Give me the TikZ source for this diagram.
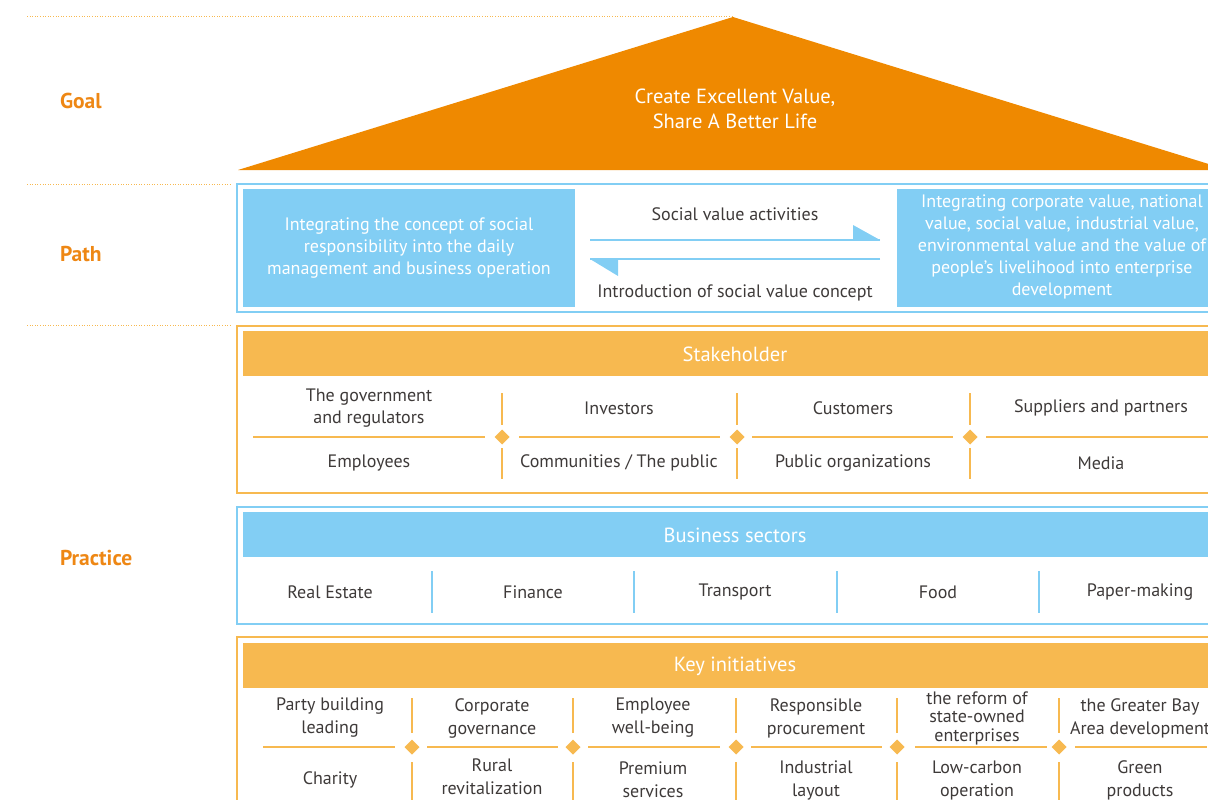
\documentclass[tikz,border=0pt]{standalone}
\usepackage{fontspec}
\setmainfont{PT Sans}
\usetikzlibrary{shapes.geometric}
\definecolor{dorange}{RGB}{239,137,0}
\definecolor{lorange}{RGB}{247,185,80}
\definecolor{lblue}{RGB}{130,206,244}
\definecolor{txtgray}{RGB}{62,58,57}
\definecolor{lblorange}{RGB}{238,135,20}
\tikzset{
  every node/.style={inner sep=0pt, outer sep=0pt},
  body/.style={font=\fontsize{18}{22}\selectfont, text=txtgray, align=center},
  keyitem/.style={font=\fontsize{18}{23}\selectfont, text=txtgray, align=center},
  whitetext/.style={font=\fontsize{18}{22}\selectfont, text=white, align=center},
  headtext/.style={font=\fontsize{20.5}{22}\selectfont, text=white},
  sidelabel/.style={font=\fontsize{21.5}{22}\selectfont\bfseries, text=lblorange, anchor=west},
  guide/.style={lorange, line width=1pt, dash pattern=on 1pt off 1.6pt},
  obox/.style={draw=lorange, line width=1.6pt},
  bbox/.style={draw=lblue, line width=1.6pt},
  ohead/.style={fill=lorange, minimum width=984pt, minimum height=45pt},
  bhead/.style={fill=lblue, minimum width=984pt, minimum height=45pt},
  bluepanel/.style={fill=lblue, minimum height=118pt},
  osep/.style={lorange, line width=1.3pt},
  bsep/.style={lblue, line width=1.3pt},
  odiamond/.style={diamond, fill=lorange, minimum size=15pt},
  flowline/.style={lblue, line width=1.4pt}
}
\begin{document}
\begin{tikzpicture}[x=1pt,y=-1pt]
\useasboundingbox (0,0) rectangle (1208,800);
\clip (0,0) rectangle (1208,800);

% guide lines
\draw[guide] (27,17) -- (733,17);
\draw[guide] (27,184) -- (230,184);
\draw[guide] (27,325) -- (230,325);

% side labels
\node[sidelabel] (goal) at (60,101) {Goal};
\node[sidelabel] (path) at (60,254) {Path};
\node[sidelabel] (practice) at (60,558) {Practice};

% roof
\fill[dorange] (733,17) -- (1228,170) -- (238,170) -- cycle;
\node[font=\fontsize{20.5}{25}\selectfont, text=white, align=center] (goaltext) at (735,109) {Create Excellent Value,\\Share A Better Life};

% path
\draw[bbox] (237,184) rectangle (1233,312);
\node[bluepanel, minimum width=332pt] (pleft) at (409,248) {};
\node[whitetext] (plefttext) at (409,248) {Integrating the concept of social\\responsibility into the daily\\management and business operation};
\node[bluepanel, minimum width=330pt] (pright) at (1062,248) {};
\node[whitetext] (prighttext) at (1062,247) {Integrating corporate value, national\\value, social value, industrial value,\\environmental value and the value of\\people’s livelihood into enterprise\\development};
\coordinate (a1s) at (590,240);
\coordinate (a1e) at (880,240);
\coordinate (a2s) at (880,259);
\coordinate (a2e) at (590,259);
\draw[flowline] (a1s) -- (a1e);
\fill[lblue] (853,225) -- (a1e) -- (853,240) -- cycle;
\draw[flowline] (a2s) -- (a2e);
\fill[lblue] (618,276) -- (a2e) -- (618,259) -- cycle;
\node[body] (svact) at (735,214) {Social value activities};
\node[body] (svint) at (735,293) {Introduction of social value concept};

% stakeholder
\draw[obox] (237,326) rectangle (1233,493);
\node[ohead] (shead) at (735,353.5) {};
\node[headtext] (sheadt) at (735,354) {Stakeholder};
\foreach \x/\a in {253/485, 519/720, 752/953, 986/1218}
  \draw[osep] (\x,437) -- (\a,437);
\foreach \x in {502,737,970}{
  \draw[osep] (\x,393) -- (\x,425);
  \draw[osep] (\x,448) -- (\x,479);
  \node[odiamond] at (\x,437) {};
}
\node[body] (s1) at (369,408) {The government\\and regulators};
\node[body] (s2) at (619,408) {Investors};
\node[body] (s3) at (853,408) {Customers};
\node[body] (s4) at (1101,408) {Suppliers and partners};
\node[body] (s5) at (369,463) {Employees};
\node[body] (s6) at (619,463) {Communities / The public};
\node[body] (s7) at (853,463) {Public organizations};
\node[body] (s8) at (1101,463) {Media};

% business sectors
\draw[bbox] (237,507) rectangle (1233,624);
\node[bhead] (bhead) at (735,534.5) {};
\node[headtext] (bheadt) at (735,535) {Business sectors};
\foreach \x in {432,634,837,1039}
  \draw[bsep] (\x,571) -- (\x,613);
\node[body] (b1) at (330,592) {Real Estate};
\node[body] (b2) at (533,592) {Finance};
\node[body] (b3) at (735,592) {Transport};
\node[body] (b4) at (938,592) {Food};
\node[body] (b5) at (1140,592) {Paper-making};

% key initiatives
\draw[obox] (237,637) rectangle (1233,840);
\node[ohead] (khead) at (735,665) {};
\node[headtext] (kheadt) at (735,666) {Key initiatives};
\foreach \x/\a in {263/395, 427/558, 588/720, 751/882, 915/1047, 1075/1207}
  \draw[osep] (\x,747) -- (\a,747);
\foreach \x in {412,573,736,897,1059}{
  \draw[osep] (\x,698) -- (\x,733);
  \draw[osep] (\x,762) -- (\x,810);
  \node[odiamond] at (\x,747) {};
}
\node[keyitem] (k1) at (330,718) {Party building\\leading};
\node[keyitem] (k2) at (492,718) {Corporate\\governance};
\node[keyitem] (k3) at (653,718) {Employee\\well-being};
\node[keyitem] (k4) at (816,718) {Responsible\\procurement};
\node[keyitem, font=\fontsize{18}{18.5}\selectfont] (k5) at (977,718) {the reform of\\state-owned\\enterprises};
\node[keyitem] (k6) at (1140,718) {the Greater Bay\\Area development};
\node[keyitem] (k7) at (330,780) {Charity};
\node[keyitem] (k8) at (492,777) {Rural\\revitalization};
\node[keyitem] (k9) at (653,780) {Premium\\services};
\node[keyitem] (k10) at (816,780) {Industrial\\layout};
\node[keyitem] (k11) at (977,780) {Low-carbon\\operation};
\node[keyitem] (k12) at (1140,780) {Green\\products};
\end{tikzpicture}
\end{document}
